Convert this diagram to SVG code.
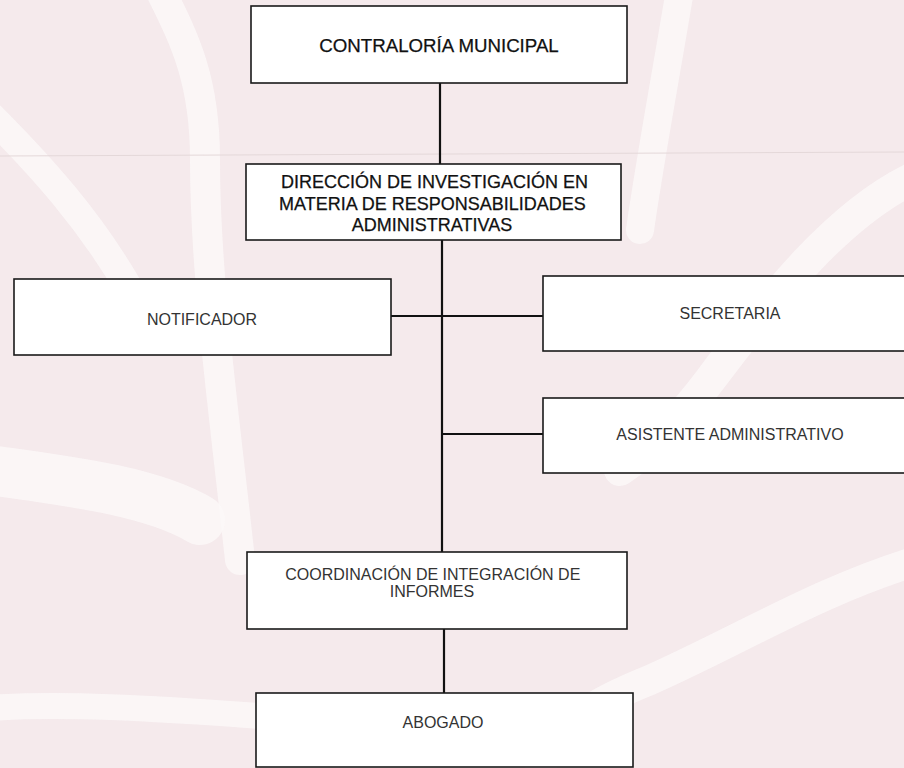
<svg xmlns="http://www.w3.org/2000/svg" width="904" height="768" viewBox="0 0 904 768">
  <defs>
    <style>
      .bg { fill: #f5eaec; }
      .swirl { fill: none; stroke: #fcf8f8; stroke-linecap: round; opacity: 0.85; }
      .box { fill: #ffffff; stroke: #1a1a1a; stroke-width: 1.6; }
      .lbl { font-family: "Liberation Sans", Arial, sans-serif; font-size: 16px; fill: #333333; text-anchor: middle; }
      .hd { font-family: "Liberation Sans", Arial, sans-serif; fill: #111111; stroke: #111111; stroke-width: 0.25; text-anchor: middle; }
      .conn { fill: none; stroke: #111111; stroke-width: 2.2; }
    </style>
  </defs>

  <!-- background paper with watermark swirls -->
  <rect class="bg" x="0" y="0" width="904" height="768"/>
  <g id="watermark">
    <path class="swirl" stroke-width="30" d="M160 -10 C 185 40, 205 80, 205 160 C 205 280, 225 420, 240 560"/>
    <path class="swirl" stroke-width="28" d="M-10 115 C 40 165, 90 220, 130 290"/>
    <path class="swirl" stroke-width="28" d="M680 -10 C 665 80, 650 160, 640 230"/>
    <path class="swirl" stroke-width="32" d="M920 175 C 840 210, 770 300, 710 380 C 680 420, 650 450, 620 470"/>
    <path class="swirl" stroke-width="30" d="M920 560 C 820 590, 740 640, 650 680 C 600 700, 560 720, 540 768"/>
    <path class="swirl" stroke-width="26" d="M-10 708 C 60 703, 150 708, 260 716"/>
    <path class="swirl" stroke-width="50" d="M-10 470 C 60 480, 150 490, 200 520"/>
    <line x1="0" y1="156" x2="904" y2="152" stroke="#e4d8d9" stroke-width="1"/>
  </g>

  <g id="connectors">
    <path class="conn" d="M440 83 V164"/>
    <path class="conn" d="M442 240 V552"/>
    <path class="conn" d="M391 316 H543"/>
    <path class="conn" d="M442 434 H543"/>
    <path class="conn" d="M444 629 V693"/>
  </g>

  <g id="contraloria">
    <rect class="box" x="251" y="6" width="376" height="77"/>
    <text class="hd" x="439" y="52" font-size="18.7">CONTRALORÍA MUNICIPAL</text>
  </g>

  <g id="direccion">
    <rect class="box" x="246" y="164" width="375" height="76"/>
    <text class="hd" font-size="18">
      <tspan x="437" y="188">DIRECCIÓN DE INVESTIGACIÓN EN</tspan>
      <tspan x="435" y="210">MATERIA DE RESPONSABILIDADES</tspan>
      <tspan x="432" y="231">ADMINISTRATIVAS</tspan>
    </text>
  </g>

  <g id="notificador">
    <rect class="box" x="14" y="279" width="377" height="76"/>
    <text class="lbl" x="202" y="325">NOTIFICADOR</text>
  </g>

  <g id="secretaria">
    <rect class="box" x="543" y="276" width="377" height="75"/>
    <text class="lbl" x="730" y="319">SECRETARIA</text>
  </g>

  <g id="asistente">
    <rect class="box" x="543" y="398" width="377" height="75"/>
    <text class="lbl" x="730" y="440">ASISTENTE ADMINISTRATIVO</text>
  </g>

  <g id="coordinacion">
    <rect class="box" x="247" y="552" width="380" height="77"/>
    <text class="lbl">
      <tspan x="435" y="580">COORDINACIÓN DE INTEGRACIÓN DE</tspan>
      <tspan x="432" y="597">INFORMES</tspan>
    </text>
  </g>

  <g id="abogado">
    <rect class="box" x="256" y="693" width="377" height="74"/>
    <text class="lbl" x="443" y="728">ABOGADO</text>
  </g>
</svg>
